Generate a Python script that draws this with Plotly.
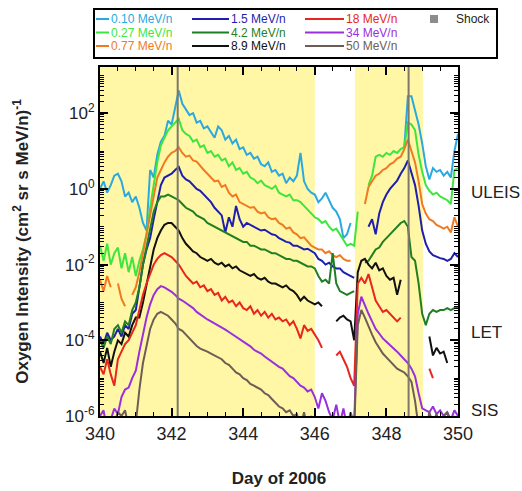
import plotly.graph_objects as go

# ---------------- data (log10 of oxygen intensity, one value every 0.1 day) ----------------
day_start = 340.0
day_step = 0.1
N = 101
days = [round(day_start + day_step * i, 1) for i in range(N)]

series_names = ["0.10 MeV/n", "0.27 MeV/n", "0.77 MeV/n", "1.5 MeV/n", "4.2 MeV/n",
                "8.9 MeV/n", "18 MeV/n", "34 MeV/n", "50 MeV/n"]
series_colors = ["#2aa9e0", "#3de63d", "#f07a22", "#1f1fae", "#1f7f22",
                 "#111111", "#e8251f", "#9a30dc", "#6e5d54"]

_ = None
log_010 = [0.0, 0.2, -0.1, 0.1, 0.35, 0.4, 0.2, -0.2, -0.1, -0.35,
           -0.2, -0.5, -0.9, -1.1, 0.5, 0.3, 0.9, 1.25, 1.4, 1.8,
           1.7, 2.2, 2.6, 2.25, 2.1, 1.95, 2.0, 1.75, 1.8, 1.6,
           1.65, 1.5, 1.35, 1.65, 1.55, 1.3, 1.4, 1.2, 1.3, 1.05,
           1.1, 0.9, 0.95, 0.8, 0.85, 0.65, 0.6, 0.7, 0.45, 0.5,
           0.35, 0.4, 0.15, 0.3, 0.2, 0.35, 0.95, 0.2, 0.0, -0.1,
           -0.15, -0.35, -0.25, -0.1, -0.3, -0.5, -0.6, -0.8, -1.3, -1.2,
           -0.9, _, _, _, _, _, _, _, _, _,
           _, _, _, _, _, 1.1, 2.45, 2.45, 2.1, 1.7,
           1.2, 0.6, 0.25, 0.55, 0.45, 0.5, 0.35, 0.45, 0.3, 1.0,
           1.45]
log_027 = [-1.5, -1.9, -1.45, -2.0, -1.7, -1.55, -2.1, -1.7, -2.2, -1.8,
           -2.3, -1.9, -1.6, -1.2, -0.5, 0.1, 0.7, 1.15, 1.35, 1.55,
           1.65, 1.75, 1.85, 1.55, 1.45, 1.4, 1.25, 1.3, 1.1, 1.15,
           0.95, 1.0, 0.85, 0.9, 0.75, 0.8, 0.6, 0.7, 0.5, 0.55,
           0.4, 0.45, 0.3, 0.25, 0.15, 0.22, 0.1, 0.05, 0.0, 0.08,
           -0.1, -0.15, -0.2, -0.15, -0.3, -0.3, -0.35, -0.45, -0.55, -0.65,
           -0.75, -0.8, -0.9, -0.85, -1.0, -1.1, -1.05, -1.2, -1.35, -1.5,
           -1.45, -1.5, -0.6, _, _, 0.1, 0.35, 0.85, 0.9, 0.85,
           0.95, 0.9, 1.0, 0.95, 1.05, 1.1, 1.75, 1.7, 1.55, 0.9,
           0.45, 0.1, -0.05, -0.15, -0.1, -0.2, -0.25, -0.3, -0.4, 0.5,
           0.55]
log_077 = [-2.4, -2.7, -2.3, -2.6, _, -2.5, -2.9, -3.1, _, -2.8,
           -2.6, -2.2, -1.7, -1.2, -0.6, -0.1, 0.3, 0.5, 0.7, 0.85,
           0.95, 1.0, 1.1, 0.95, 0.85, 0.88, 0.75, 0.72, 0.6, 0.5,
           0.4, 0.3, 0.2, 0.22, 0.05, 0.1, -0.1, -0.2, -0.15, -0.35,
           -0.4, -0.45, -0.5, -0.48, -0.6, -0.65, -0.62, -0.75, -0.8, -0.78,
           -0.9, -0.95, -1.05, -1.02, -1.15, -1.2, -1.3, -1.28, -1.4, -1.5,
           -1.55, -1.6, -1.6, -1.7, -1.65, -1.75, -1.8, -1.75, -1.85, -1.9,
           -1.9, _, _, _, -0.4, 0.05, 0.2, 0.35, 0.4, 0.5,
           0.55, 0.65, 0.7, 0.8, 0.85, 1.05, 1.3, 1.0, 0.7, 0.2,
           -0.4, -0.65, -0.8, -0.85, -0.95, -1.0, -1.05, -1.0, -1.15, -0.75,
           -1.0]
log_15 = [-3.9, -4.1, -3.8, -4.0, -3.9, -3.7, -3.9, -3.6, -3.7, -3.3,
          -3.2, -2.6, -2.0, -1.6, -1.3, -0.8, -0.3, 0.1, 0.3, 0.35,
          0.4, 0.5, 0.58, 0.35, 0.25, 0.2, 0.1, 0.0, -0.05, -0.15,
          -0.25, -0.35, -0.5, -0.6, -0.7, -1.15, -0.75, -1.0, -0.45, -0.8,
          -1.0, -0.9, -0.95, -1.0, -1.05, -1.1, -1.08, -1.15, -1.2, -1.22,
          -1.3, -1.35, -1.4, -1.42, -1.5, -1.5, -1.55, -1.6, -1.58, -1.65,
          -1.7, -1.85, -1.9, -2.0, -1.95, -2.05, -2.1, -2.1, -2.2, -2.25,
          -2.3, -2.35, _, _, _, -1.0, -0.8, -1.2, -0.65, -0.35,
          -0.15, 0.0, 0.1, 0.22, 0.4, 0.55, 0.75, 0.45, 0.1, -0.45,
          -1.1, -1.45, -1.65, -1.75, -1.8, -1.83, -1.85, -1.9, -1.85, -1.7,
          -1.8]
log_42 = [-4.0, -4.2, -3.9, -4.1, -3.7, -3.6, -3.8, -3.5, -3.6, -3.2,
          -3.0, -2.6, -2.0, -1.5, -1.0, -0.6, -0.35, -0.2, -0.2, -0.15,
          -0.2, -0.25, -0.3, -0.4, -0.5, -0.55, -0.6, -0.7, -0.75, -0.8,
          -0.9, -0.95, -1.0, -1.05, -1.1, -1.15, -1.2, -1.25, -1.3, -1.35,
          -1.4, -1.4, -1.5, -1.5, -1.55, -1.6, -1.6, -1.65, -1.7, -1.7,
          -1.75, -1.8, -1.85, -1.85, -1.9, -1.9, -1.95, -2.0, -2.05, -2.05,
          -2.1, -2.3, -2.45, -2.4, -2.5, -1.7, -2.5, -2.7, -2.75, -2.8,
          -2.75, -2.7, _, _, -1.95, -1.9, -1.75, -1.6, -1.55, -1.4,
          -1.3, -1.2, -1.1, -1.0, -0.9, -0.85, -1.0, -1.8, -1.9, -2.5,
          -3.3, -3.6, -3.3, -3.2, -3.25, -3.2, -3.2, -3.15, -3.2, -3.15,
          -3.15]
log_89 = [-4.3, -4.6, -4.2, -4.7, -4.3, -4.0, -4.1, -3.8, -3.9, -3.6,
          -3.4, -3.4, -3.0, -2.5, -2.0, -1.6, -1.3, -1.1, -0.95, -0.9,
          -0.9, -1.0, -1.1, -1.3, -1.45, -1.55, -1.65, -1.7, -1.8, -1.85,
          -1.9, -1.85, -1.95, -2.0, -1.95, -2.05, -2.0, -2.1, -2.05, -2.15,
          -2.2, -2.25, -2.3, -2.25, -2.35, -2.4, -2.35, -2.45, -2.5, -2.5,
          -2.55, -2.6, -2.55, -2.65, -2.7, -2.8, -2.95, -2.85, -2.95, -3.0,
          -3.05, -3.0, -3.1, _, _, _, -3.5, -3.4, -3.35, -3.45,
          -3.5, -4.0, -2.2, -1.9, -1.85, -2.0, -2.1, -1.95, -2.15, -2.1,
          -2.3, -2.4, -2.35, -2.8, -2.4, _, _, _, _, _,
          _, _, -3.9, -4.4, -4.2, -4.35, -4.3, -4.6, _, _,
          _]
log_18 = [-4.7, -4.9, -4.5, -4.9, -5.2, -4.5, -4.3, -4.1, -4.0, -3.8,
          -3.6, -3.2, -2.8, -2.5, -2.25, -2.0, -1.85, -1.75, -1.7, -1.75,
          -1.8, -1.9, -2.0, -2.15, -2.3, -2.4, -2.5, -2.45, -2.6, -2.55,
          -2.7, -2.65, -2.8, -2.75, -2.95, -2.85, -3.0, -2.95, -3.1, -3.0,
          -3.15, -3.2, -3.1, -3.3, -3.2, -3.35, -3.25, -3.4, -3.3, -3.45,
          -3.4, -3.5, -3.45, -3.6, -3.5, -3.7, -3.95, -3.6, -3.75, -3.7,
          -3.85, -4.0, -4.2, _, _, _, -4.4, -4.3, -4.5, -4.7,
          -5.0, -5.2, -2.5, -2.35, -2.5, -2.25, -2.6, -2.95, -3.1, -3.25,
          -3.2, -3.3, -3.4, -3.5, -3.4, _, _, _, _, _,
          _, _, -4.75, -5.0, _, _, _, _, _, _,
          _]
log_34 = [-6.0, -5.85, -6.4, -6.1, -5.8, -5.95, -5.5, -5.3, -5.25, -5.0,
          -4.8, -4.3, -3.85, -3.4, -3.05, -2.8, -2.65, -2.57, -2.6, -2.65,
          -2.72, -2.8, -2.9, -2.95, -3.02, -3.1, -3.15, -3.25, -3.32, -3.38,
          -3.45, -3.5, -3.55, -3.62, -3.67, -3.72, -3.78, -3.84, -3.9, -3.97,
          -4.04, -4.1, -4.16, -4.25, -4.3, -4.35, -4.43, -4.5, -4.56, -4.65,
          -4.7, -4.75, -4.85, -4.95, -5.0, -5.1, -5.2, -5.25, -5.35, -5.3,
          -5.5, -5.8, -5.4, -5.6, -5.9, -6.1, -5.7, -6.2, -5.8, -6.3,
          -5.9, -6.2, -3.3, -2.85, -3.1, -3.3, -3.5, -3.7, -3.82, -3.95,
          -4.04, -4.12, -4.22, -4.3, -4.4, -4.5, -4.6, -4.75, -4.95, -5.4,
          -5.8, -5.85, -5.9, -5.75, -5.95, -5.85, -6.0, -5.9, -6.1, -5.85,
          -6.0]
log_50 = [-6.5, -6.5, -6.3, -6.5, -6.2, -5.9, -6.0, -5.85, -6.3, -6.5,
          -6.2, -5.3, -4.6, -4.1, -3.7, -3.45, -3.3, -3.25, -3.3, -3.35,
          -3.45, -3.55, -3.7, -3.75, -3.85, -3.95, -4.05, -4.15, -4.22, -4.25,
          -4.3, -4.35, -4.4, -4.45, -4.5, -4.6, -4.65, -4.75, -4.85, -4.9,
          -5.0, -5.05, -5.15, -5.2, -5.25, -5.3, -5.4, -5.45, -5.55, -5.65,
          -5.75, -5.8, -5.9, -5.85, -6.0, -5.95, -6.3, -5.9, -6.4, -6.0,
          -6.5, -6.5, -6.3, -6.6, -6.5, -6.4, -6.6, -6.5, -6.3, -6.6,
          -6.5, -6.4, -3.6, -3.2, -3.4, -3.65, -3.85, -4.05, -4.2, -4.35,
          -4.45, -4.55, -4.65, -4.75, -4.8, -4.85, -4.95, -5.1, -5.6, -6.3,
          -6.0, -6.4, -5.9, -6.2, -5.95, -6.3, -6.0, -5.9, -6.3, -6.0,
          -6.4]

series_logs = [log_010, log_027, log_077, log_15, log_42, log_89, log_18, log_34, log_50]

shock_days = [342.17, 348.62]
shaded_intervals = [(340.0, 346.0), (347.12, 349.02)]
x_tick_days = [340, 342, 344, 346, 348, 350]
y_tick_exponents = [-6, -4, -2, 0, 2]
instrument_labels = ["ULEIS", "LET", "SIS"]
instrument_label_exponents = [-0.1, -3.8, -5.85]

# ---------------- figure ----------------
W, H = 522, 491
ML, MR, MT, MB = 100, 64, 67, 75
PW, PH = W - ML - MR, H - MT - MB
FONT = "Liberation Sans, Arial"

fig = go.Figure()
for name, color, logs in zip(series_names, series_colors, series_logs):
    fig.add_trace(go.Scatter(
        x=days, y=[None if v is None else 10 ** v for v in logs],
        mode="lines", name=name, line=dict(color=color, width=2),
        connectgaps=False, showlegend=False, hoverinfo="skip"))

shapes = []
for x0, x1 in shaded_intervals:
    shapes.append(dict(type="rect", xref="x", yref="paper", x0=x0, x1=x1, y0=0, y1=1,
                       fillcolor="#fff7a6", line_width=0, layer="below"))
for d in shock_days:
    shapes.append(dict(type="line", xref="x", yref="paper", x0=d, x1=d, y0=0, y1=1,
                       line=dict(color="#7d786a", width=2), layer="above"))


def px_x(p):
    return (p - ML) / PW


def px_y(p):
    return (H - MB - p) / PH


# legend box (manual, three columns + shock)
shapes.append(dict(type="rect", xref="paper", yref="paper",
                   x0=px_x(94), x1=px_x(497), y0=px_y(58), y1=px_y(9),
                   line=dict(color="black", width=2), fillcolor="white", layer="above"))
annotations = []
col_line_x = [(96, 109), (192, 229), (305, 344)]
row_y = [19, 32.5, 46]
for k, (name, color) in enumerate(zip(series_names, series_colors)):
    c, r = k // 3, k % 3
    lx0, lx1 = col_line_x[c]
    yy = px_y(row_y[r])
    shapes.append(dict(type="line", xref="paper", yref="paper", x0=px_x(lx0), x1=px_x(lx1),
                       y0=yy, y1=yy, line=dict(color=color, width=2), layer="above"))
    annotations.append(dict(xref="paper", yref="paper", x=px_x(lx1 + 1), y=yy, text=name,
                            showarrow=False, xanchor="left", yanchor="middle",
                            height=12, borderpad=0,
                            font=dict(size=12, color=color, family=FONT)))
shapes.append(dict(type="rect", xref="paper", yref="paper", x0=px_x(430), x1=px_x(438),
                   y0=px_y(23), y1=px_y(15), fillcolor="#8c8c8c", line_width=0, layer="above"))
annotations.append(dict(xref="paper", yref="paper", x=px_x(455), y=px_y(19), text="Shock",
                        showarrow=False, xanchor="left", yanchor="middle",
                        height=12, borderpad=0,
                        font=dict(size=12, color="#222", family=FONT)))

for lab, ex in zip(instrument_labels, instrument_label_exponents):
    annotations.append(dict(xref="paper", yref="y", x=px_x(469), y=ex,
                            text=lab, showarrow=False, xanchor="left", yanchor="middle",
                            font=dict(size=17, color="#222", family=FONT)))

y_minor = []
for e in range(-6, 4):
    for m in range(1, 10):
        v = m * 10 ** e
        if v < 10 ** 3.22 and not (m == 1 and e in y_tick_exponents):
            y_minor.append(v)
y_major = [10 ** e for e in y_tick_exponents]
y_ticktext = ["10<sup>%d</sup>" % e for e in y_tick_exponents]

fig.update_layout(
    width=W, height=H, margin=dict(l=ML, r=MR, t=MT, b=MB, autoexpand=False),
    paper_bgcolor="white", plot_bgcolor="white",
    shapes=shapes, annotations=annotations, showlegend=False,
    font=dict(family=FONT, color="#222"),
)
fig.update_xaxes(
    range=[340, 350], tickmode="array", tickvals=x_tick_days,
    ticktext=[str(d) for d in x_tick_days],
    ticks="inside", ticklen=8, tickwidth=1.5, tickcolor="black",
    minor=dict(ticks="inside", ticklen=4, dtick=0.5, tickcolor="black", tickwidth=1.2),
    showline=True, linecolor="black", linewidth=2, mirror="ticks",
    showgrid=False, zeroline=False, automargin=False,
    tickfont=dict(size=18, color="#222"),
    title=dict(text="<b>Day of 2006</b>", font=dict(size=17, color="#222"), standoff=30),
)
fig.update_yaxes(
    type="log", range=[-6, 3.22], tickmode="array", tickvals=y_major, ticktext=y_ticktext,
    ticks="inside", ticklen=8, tickwidth=1.5, tickcolor="black",
    minor=dict(ticks="inside", ticklen=4, tickvals=y_minor, tickcolor="black", tickwidth=1),
    showline=True, linecolor="black", linewidth=2, mirror="ticks",
    showgrid=False, zeroline=False, automargin=False,
    tickfont=dict(size=17, color="#222"),
    title=dict(text="<b>Oxygen Intensity (cm<sup>2</sup> sr s MeV/n)<sup>-1</sup></b>",
               font=dict(size=17, color="#222"), standoff=32),
)

fig.write_html("out.html")
